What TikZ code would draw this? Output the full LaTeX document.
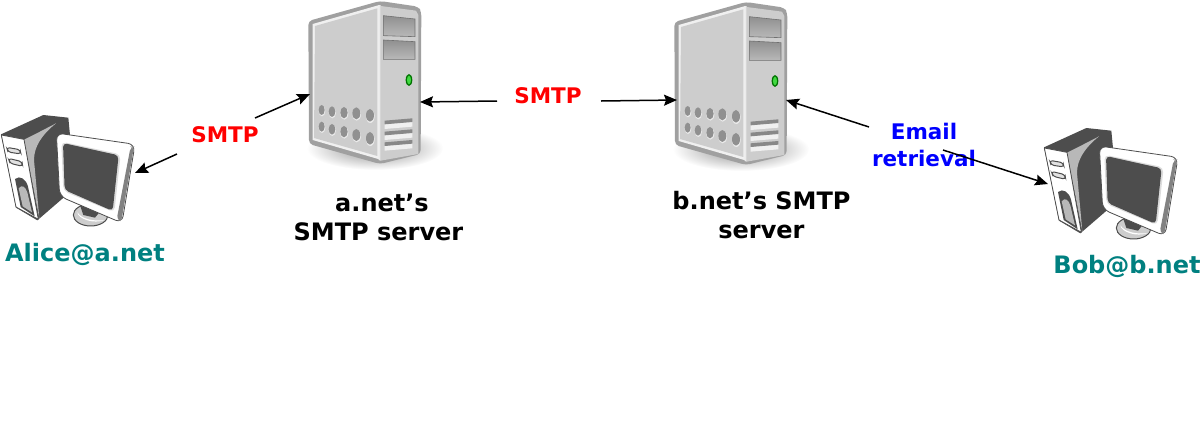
\documentclass[tikz,border=0pt]{standalone}
\usepackage{fontspec}
\setmainfont{DejaVu Sans}
\usetikzlibrary{arrows.meta}
\definecolor{teallabel}{HTML}{008080}
\definecolor{frameg}{HTML}{A0A0A0}
\definecolor{faceg}{HTML}{CDCDCD}
\definecolor{darkpc}{HTML}{4D4D4D}
\tikzset{
  arr/.style={draw=black,line width=1.5pt,-{Stealth[length=13pt,width=11pt,inset=2pt]}},
  lab/.style={font=\bfseries\fontsize{21.5}{27}\selectfont,align=center,inner sep=0pt},
  captionlab/.style={font=\bfseries\fontsize{24}{29}\selectfont,align=center,inner sep=0pt,text=black},
  who/.style={font=\bfseries\fontsize{24}{27}\selectfont,inner sep=0pt,text=teallabel},
  hole/.style={fill=frameg!90!black},
  zoomed/.style={x=0.3333pt,y=-0.3333pt},
  server/.pic={
    \shade[inner color=black!45,outer color=white] (255,445) ellipse (205 and 65);
    \fill[frameg,rounded corners=4pt] (55,63) -- (270,3) -- (385,20) -- (394,35) -- (392,462) -- (270,492) -- (57,432) -- cycle;
    \fill[white!70!faceg] (68,72) -- (268,15) -- (268,478) -- (68,420) -- cycle;
    \fill[faceg] (75,78) -- (262,25) -- (262,468) -- (72,414) -- cycle;
    \fill[faceg] (272,18) -- (378,32) -- (385,45) -- (385,462) -- (272,482) -- cycle;
    \fill[white!60!faceg] (266,15) -- (272,15) -- (272,482) -- (266,480) -- cycle;
    \shade[top color=frameg!90!black,bottom color=faceg!90!black,draw=frameg!70!black,line width=.6pt] (280,47) -- (375,57) -- (375,110) -- (280,107) -- cycle;
    \shade[top color=frameg!90!black,bottom color=faceg!90!black,draw=frameg!70!black,line width=.6pt] (280,120) -- (375,125) -- (375,178) -- (280,178) -- cycle;
    \fill[green!45!black] (357,240) ellipse (10 and 18);
    \fill[green!70!white!85!black] (357,240) ellipse (6 and 13);
    \foreach \x/\ya/\yb/\rx/\ry in {95/330/380/9/15,126/335/388/10/16,162/338/395/11/17,199/340/405/12/18,240/346/415/12/19}{
      \fill[white!60!faceg] (\x+1,\ya+3) ellipse ({\rx+1} and {\ry+1});
      \fill[white!60!faceg] (\x+1,\yb+3) ellipse ({\rx+1} and {\ry+1});
      \fill[hole] (\x,\ya) ellipse ({\rx} and {\ry});
      \fill[hole] (\x,\yb) ellipse ({\rx} and {\ry});
    }
    \foreach \y in {0,33,65}{
      \fill[white!70!faceg] (284,372+\y) -- (367,365+\y) -- (367,380+\y) -- (284,387+\y) -- cycle;
      \fill[frameg!85!black] (284,362+\y) -- (367,355+\y) -- (367,366+\y) -- (284,373+\y) -- cycle;
    }
  },
  desktop/.pic={
    \fill[darkpc,line join=round] (3,88) -- (130,30) -- (205,38) -- (210,90) -- (200,270) -- (112,346) -- (48,308) -- cycle;
    \fill[frameg!75!white] (72,104) .. controls (105,88) and (135,72) .. (168,55) .. controls (125,90) and (102,125) .. (102,165) -- (118,340) -- cycle;
    \fill[white,draw=darkpc,line width=.8pt,line join=round] (4,90) -- (72,103) -- (115,343) -- (48,306) -- cycle;
    \draw[darkpc,fill=faceg!60!white,line width=1pt,rounded corners=3pt] (20,127) -- (60,134) -- (63,147) -- (24,141) -- cycle;
    \draw[darkpc,fill=faceg!60!white,line width=1pt,rounded corners=3pt] (25,160) -- (66,170) -- (68,184) -- (30,175) -- cycle;
    \fill[darkpc] (45,222) .. controls (60,210) and (78,222) .. (84,245) -- (104,334) -- (62,306) -- cycle;
    \fill[frameg!75!white] (56,250) .. controls (66,238) and (76,244) .. (82,262) -- (96,322) -- (68,304) -- cycle;
    \draw[darkpc,fill=faceg,line width=1pt] (272,330) ellipse (52 and 33);
    \fill[white] (232,322) .. controls (235,342) and (280,358) .. (315,345) .. controls (280,350) and (245,342) .. (232,322) -- cycle;
    \fill[darkpc] (240,300) -- (300,320) -- (285,338) -- (250,330) -- cycle;
    \draw[darkpc,fill=white,line width=.8pt,rounded corners=7pt] (169,84) -- (405,118) -- (366,354) -- (179,274) -- cycle;
    \fill[darkpc!70!white,rounded corners=4pt] (392,125) -- (402,125) -- (364,350) -- (350,344) -- cycle;
    \fill[faceg!70!white,rounded corners=5pt] (184,110) -- (362,148) -- (343,322) -- (190,258) -- cycle;
    \fill[darkpc,rounded corners=4pt] (189,114) -- (356,151) -- (338,318) -- (194,255) -- cycle;
  }
}
\begin{document}
\begin{tikzpicture}[x=1pt,y=-1pt]
\useasboundingbox (0,0) rectangle (1200,424);
\begin{scope}[shift={(290,0)},zoomed]\pic (srva) {server};\end{scope}
\begin{scope}[shift={(656,1)},zoomed]\pic (srvb) {server};\end{scope}
\begin{scope}[shift={(0,105)},zoomed]\pic (pca) {desktop};\end{scope}
\begin{scope}[shift={(1043,118)},zoomed]\pic (pcb) {desktop};\end{scope}
\node[lab,text=red] (smtpa) at (225,135) {SMTP};
\node[lab,text=red] (smtpb) at (548,96) {SMTP};
\node[lab,text=blue] (mail) at (924,144.5) {Email\\retrieval};
\coordinate (la1) at (177,154);
\coordinate (la2) at (255,118);
\coordinate (lb1) at (497,101);
\coordinate (lb2) at (601,101);
\coordinate (lc1) at (869,127);
\coordinate (lc2) at (943,150);
\coordinate (alicepc) at (135,173);
\coordinate (serveraL) at (310,94);
\coordinate (serveraR) at (420,102);
\coordinate (serverbL) at (677,100);
\coordinate (serverbR) at (786,100);
\coordinate (bobpc) at (1048,184);
\draw[arr] (la1) -- (alicepc);
\draw[arr] (la2) -- (serveraL);
\draw[arr] (lb1) -- (serveraR);
\draw[arr] (lb2) -- (serverbL);
\draw[arr] (lc1) -- (serverbR);
\draw[arr] (lc2) -- (bobpc);
\node[captionlab] (capa) at (378.5,217) {\kern7pt a.net’s\\SMTP server};
\node[captionlab] (capb) at (761.5,215) {b.net’s SMTP\\server};
\node[who] (alice) at (85,254) {Alice@a.net};
\node[who] (bob) at (1127,266) {Bob@b.net};
\end{tikzpicture}
\end{document}
